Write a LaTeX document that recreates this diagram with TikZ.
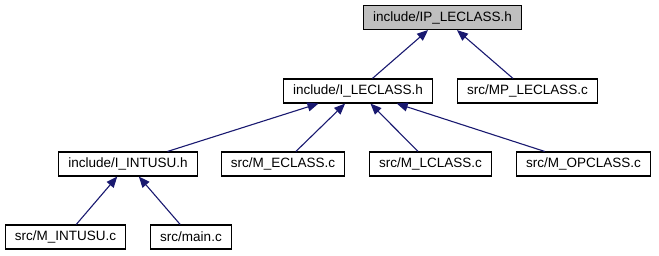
\documentclass[tikz,border=0pt]{standalone}
\usepackage{fontspec}
\setmainfont{Liberation Sans}
\usepackage{tikz}
\usetikzlibrary{arrows.meta}
\definecolor{edgeblue}{RGB}{25, 25, 112}
\definecolor{rootgray}{RGB}{191, 191, 191}

\tikzset{
  file/.style={draw, line width=1.1pt, inner xsep=9.5pt, inner ysep=0pt,
    minimum height=24pt, fill=white,
    font=\fontsize{13.5}{16}\selectfont},
  root/.style={file, fill=rootgray},
  dep/.style={draw=edgeblue, line width=1.1pt,
    -{Triangle[length=11pt, width=9pt, fill=edgeblue]}}
}

\begin{document}
\begin{tikzpicture}[x=1pt, y=-1pt]
\useasboundingbox (0, 0) rectangle (659, 256);
% header files and sources, one row per level
\node[root] (ipleclass) at (442.5, 17.5) {include/IP\_LECLASS.h};
\node[file] (ileclass) at (358, 91) {include/I\_LECLASS.h};
\node[file] (mpleclass) at (527.5, 91) {src/MP\_LECLASS.c};
\node[file] (iintusu) at (128, 164) {include/I\_INTUSU.h};
\node[file] (meclass) at (283, 164) {src/M\_ECLASS.c};
\node[file] (mlclass) at (430.5, 164) {src/M\_LCLASS.c};
\node[file] (mopclass) at (583.5, 164) {src/M\_OPCLASS.c};
\node[file] (mintusu) at (65.5, 237) {src/M\_INTUSU.c};
\node[file] (mainc) at (191, 237) {src/main.c};
% include edges
\foreach \src / \dst in {ileclass/ipleclass, mpleclass/ipleclass,
    iintusu/ileclass, meclass/ileclass, mlclass/ileclass, mopclass/ileclass,
    mintusu/iintusu, mainc/iintusu} {
  \draw[dep] (\src) -- (\dst);
}
\end{tikzpicture}
\end{document}
